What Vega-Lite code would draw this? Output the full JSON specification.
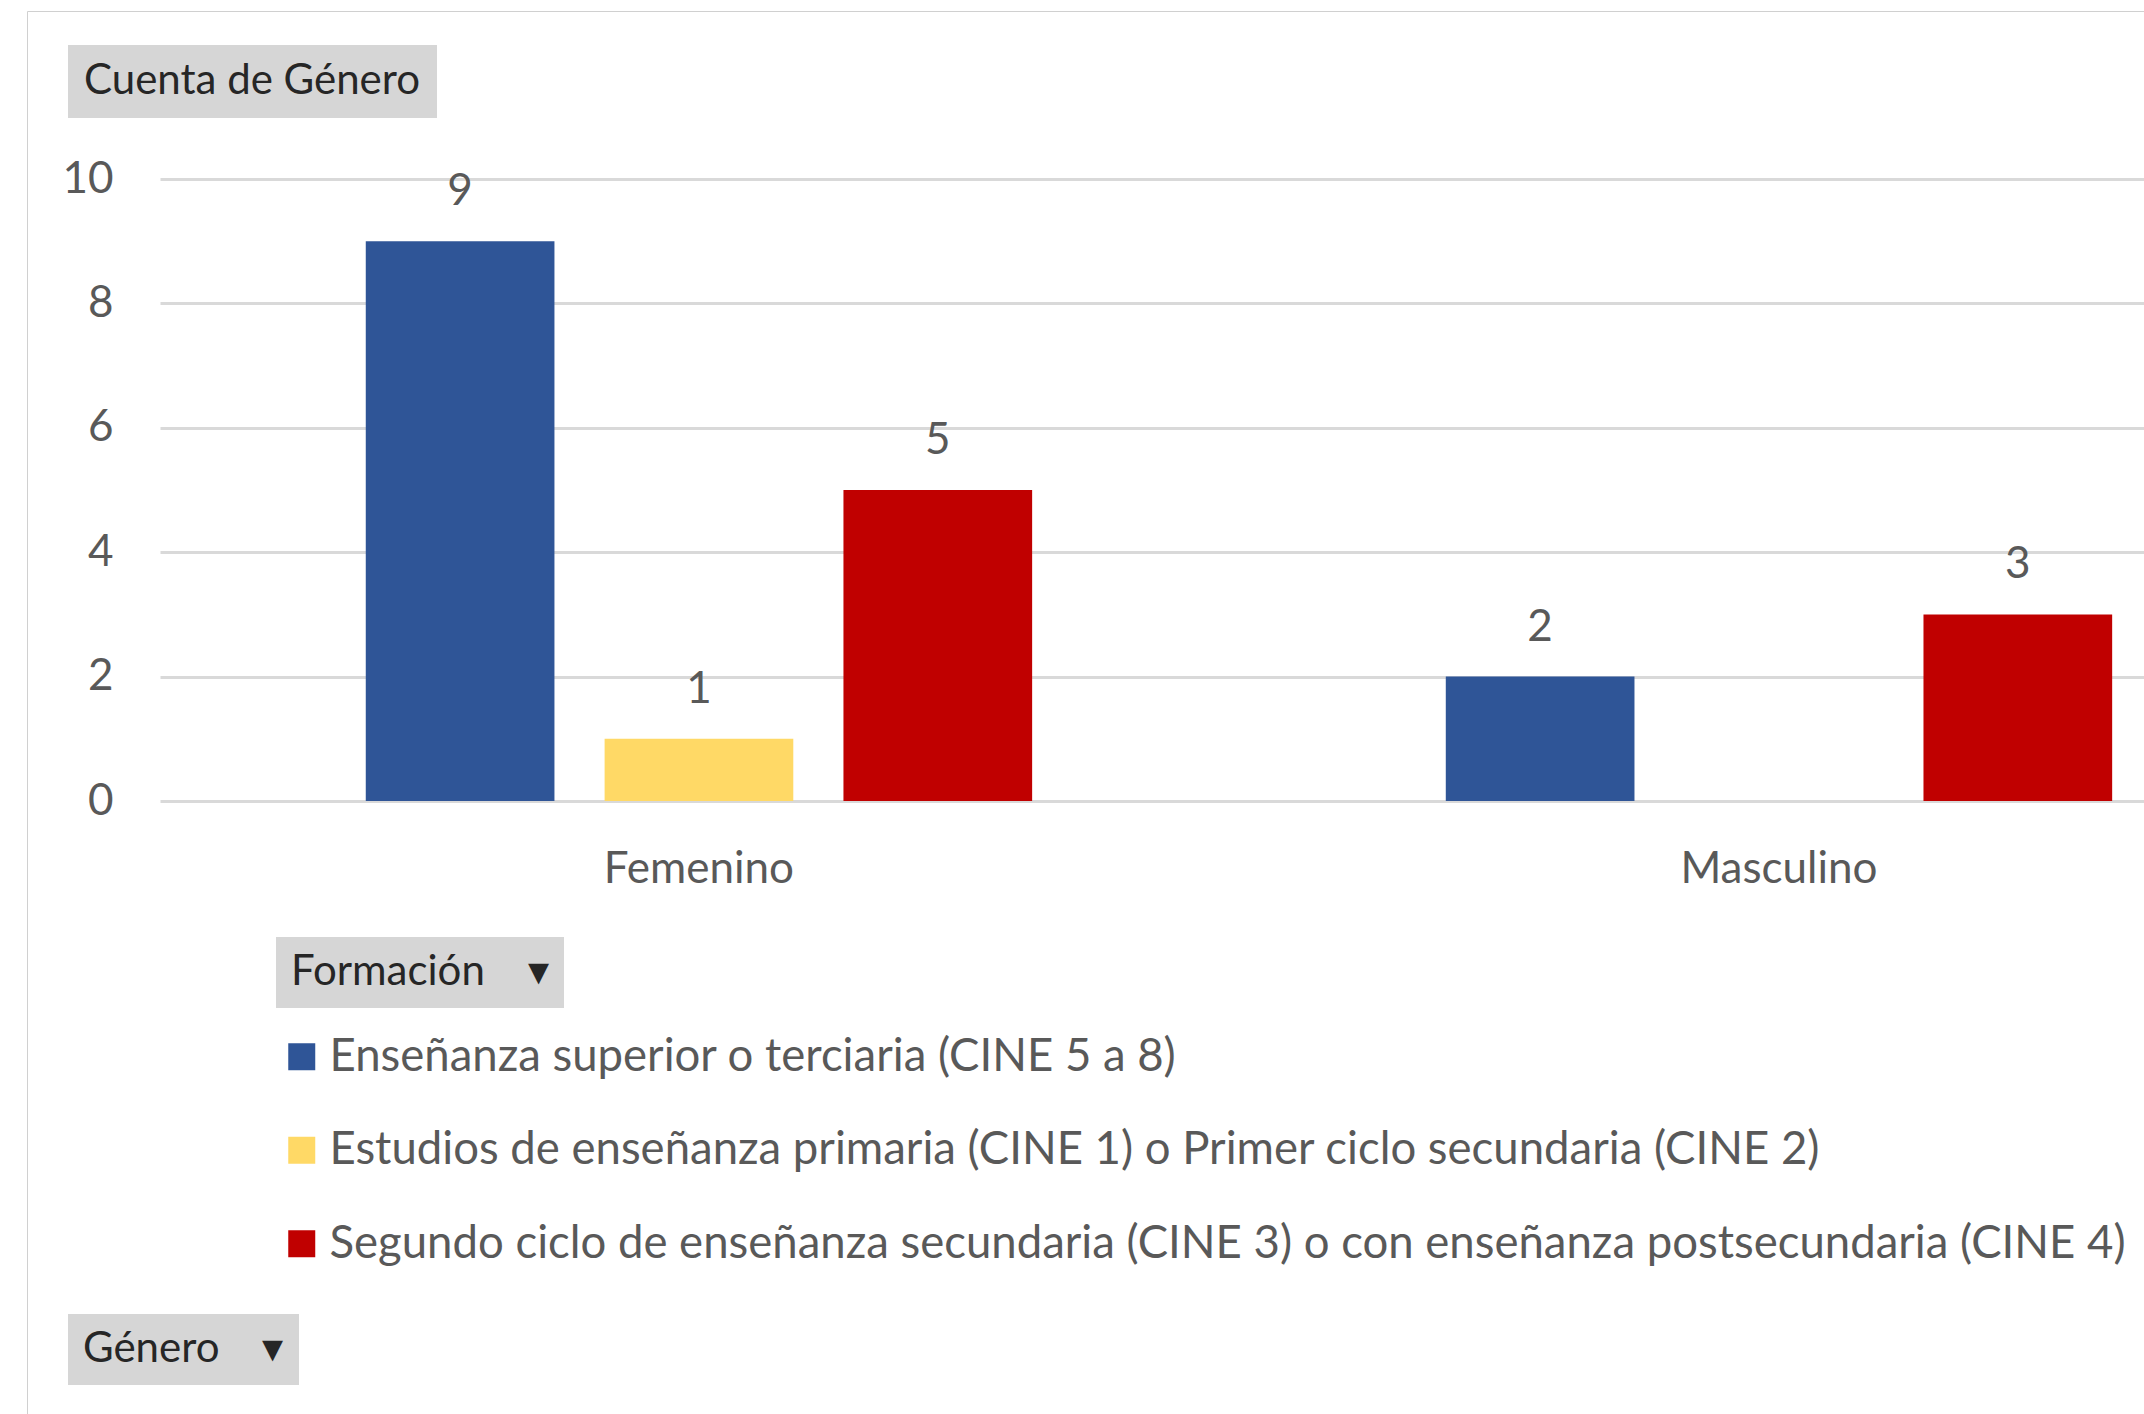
{
  "$schema": "https://vega.github.io/schema/vega-lite/v6.json",
  "width": 1984,
  "height": 622,
  "autosize": {"type": "none"},
  "padding": {"left": 160, "top": 179, "right": 0, "bottom": 613},
  "background": "white",
  "config": {"view": {"stroke": null}, "font": "Lato"},
  "data": {
    "values": [
      {"Genero": "Femenino", "Formacion": "Enseñanza superior o terciaria (CINE 5 a 8)", "Cuenta": 9},
      {"Genero": "Femenino", "Formacion": "Estudios de enseñanza primaria (CINE 1) o Primer ciclo secundaria (CINE 2)", "Cuenta": 1},
      {"Genero": "Femenino", "Formacion": "Segundo ciclo de enseñanza secundaria (CINE 3) o con enseñanza postsecundaria (CINE 4)", "Cuenta": 5},
      {"Genero": "Masculino", "Formacion": "Enseñanza superior o terciaria (CINE 5 a 8)", "Cuenta": 2},
      {"Genero": "Masculino", "Formacion": "Segundo ciclo de enseñanza secundaria (CINE 3) o con enseñanza postsecundaria (CINE 4)", "Cuenta": 3}
    ]
  },
  "resolve": {"scale": {"stroke": "independent"}, "legend": {"stroke": "independent"}},
  "layer": [
    {
      "mark": {"type": "bar", "strokeWidth": 0},
      "encoding": {
        "x": {
          "field": "Genero", "type": "nominal", "sort": ["Femenino", "Masculino"],
          "scale": {"paddingInner": 0.383, "paddingOuter": 0.11, "align": 0.866},
          "axis": {"title": null, "domain": false, "ticks": false, "tickSize": 0, "labelAngle": 0, "labelFont": "Lato", "labelFontSize": 44, "labelColor": "#595959", "labelPadding": 81, "labelBaseline": "alphabetic", "labelLimit": 1000}
        },
        "xOffset": {
          "field": "Formacion", "type": "nominal",
          "sort": ["Enseñanza superior o terciaria (CINE 5 a 8)", "Estudios de enseñanza primaria (CINE 1) o Primer ciclo secundaria (CINE 2)", "Segundo ciclo de enseñanza secundaria (CINE 3) o con enseñanza postsecundaria (CINE 4)"],
          "scale": {"paddingInner": 0.21, "paddingOuter": 0}
        },
        "y": {
          "field": "Cuenta", "type": "quantitative",
          "scale": {"domain": [0, 10], "nice": false},
          "axis": {"title": null, "domain": false, "ticks": false, "tickSize": 0, "grid": true, "gridColor": "#D9D9D9", "gridWidth": 3, "values": [0, 2, 4, 6, 8, 10], "format": "d", "labelFont": "Lato", "labelFontSize": 44, "labelColor": "#595959", "labelPadding": 47}
        },
        "color": {
          "field": "Formacion", "type": "nominal",
          "scale": {
            "domain": ["Enseñanza superior o terciaria (CINE 5 a 8)", "Estudios de enseñanza primaria (CINE 1) o Primer ciclo secundaria (CINE 2)", "Segundo ciclo de enseñanza secundaria (CINE 3) o con enseñanza postsecundaria (CINE 4)"],
            "range": ["#2F5597", "#FFD966", "#C00000"]
          },
          "legend": {"title": null, "orient": "none", "legendX": 119, "legendY": 855, "direction": "vertical", "symbolType": "square", "symbolSize": 729, "symbolStrokeWidth": 0, "labelFont": "Lato", "labelFontSize": 45.5, "labelColor": "#595959", "labelOffset": 5, "rowPadding": 46.5, "labelLimit": 3000, "padding": 0}
        },
        "stroke": {
          "datum": "Cuenta de Género", "type": "nominal",
          "scale": {"range": ["transparent"]},
          "legend": {"title": "Cuenta de Género", "values": [], "orient": "none", "legendX": -92, "legendY": -134, "fillColor": "#D6D6D6", "padding": 16, "titlePadding": 0, "titleFont": "Lato", "titleFontSize": 42, "titleFontWeight": "normal", "titleColor": "#262626", "titleLimit": 2000}
        },
        "strokeDash": {
          "datum": "Formación", "type": "nominal",
          "legend": {"title": "Formación\u00a0\u00a0\u00a0\u00a0▾", "values": [], "orient": "none", "legendX": 116, "legendY": 758, "fillColor": "#D6D6D6", "padding": 15, "titlePadding": 0, "titleFont": "Lato", "titleFontSize": 42, "titleFontWeight": "normal", "titleColor": "#262626", "titleLimit": 2000}
        },
        "opacity": {
          "datum": "Género", "type": "nominal",
          "scale": {"range": [1, 1]},
          "legend": {"title": "Género\u00a0\u00a0\u00a0\u00a0▾", "values": [], "orient": "none", "legendX": -92, "legendY": 1135, "fillColor": "#D6D6D6", "padding": 15, "titlePadding": 0, "titleFont": "Lato", "titleFontSize": 42, "titleFontWeight": "normal", "titleColor": "#262626", "titleLimit": 2000}
        }
      }
    },
    {
      "mark": {"type": "text", "font": "Lato", "fontSize": 44, "fill": "#595959", "baseline": "alphabetic", "dy": -36},
      "encoding": {
        "x": {"field": "Genero", "type": "nominal", "sort": ["Femenino", "Masculino"]},
        "xOffset": {
          "field": "Formacion", "type": "nominal",
          "sort": ["Enseñanza superior o terciaria (CINE 5 a 8)", "Estudios de enseñanza primaria (CINE 1) o Primer ciclo secundaria (CINE 2)", "Segundo ciclo de enseñanza secundaria (CINE 3) o con enseñanza postsecundaria (CINE 4)"]
        },
        "y": {"field": "Cuenta", "type": "quantitative"},
        "text": {"field": "Cuenta", "type": "quantitative"},
        "stroke": {
          "datum": "marco", "type": "nominal",
          "scale": {"range": ["transparent"]},
          "legend": {"title": "\u2800", "values": [], "orient": "none", "legendX": -133, "legendY": -168, "strokeColor": "#D0D0D0", "padding": 1150, "titlePadding": 0, "titleFontSize": 10, "titleOpacity": 0}
        }
      }
    }
  ]
}
